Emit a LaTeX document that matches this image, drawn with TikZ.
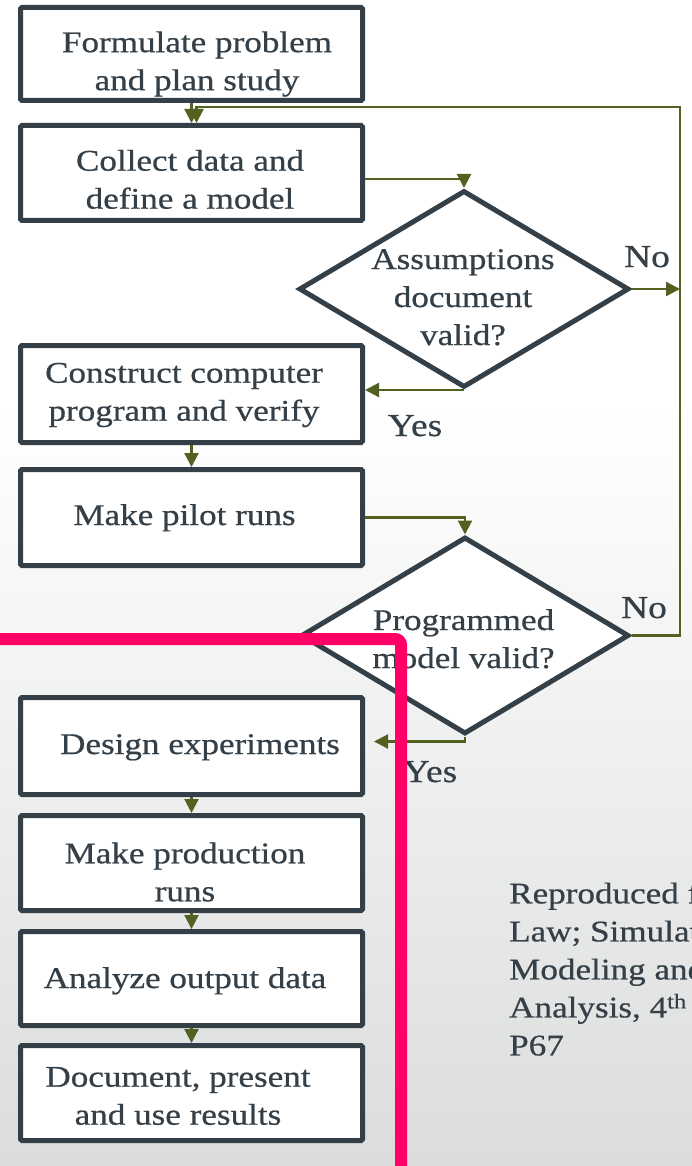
\documentclass[tikz,border=0pt]{standalone}
\usepackage{fontspec}
\setmainfont[FakeStretch=1.17,FakeBold=0.6]{Liberation Serif}
\usetikzlibrary{arrows.meta,shapes.geometric}
\definecolor{ink}{HTML}{343F47}
\definecolor{olive}{HTML}{526020}
\definecolor{hot}{HTML}{FF0066}
\definecolor{bgbot}{HTML}{DBDDDC}
\tikzset{
  stepbox/.style={draw=ink, line width=5pt, fill=white, rectangle, rounded corners=1.5pt,
    inner sep=0pt, minimum width=342pt},
  decision/.style={draw=ink, line width=5pt, fill=white, diamond, inner sep=0pt},
  txt/.style={font=\fontsize{30}{38}\selectfont, text=ink, align=center, inner sep=0pt},
  lbl/.style={font=\fontsize{32}{38}\selectfont, text=ink, inner sep=0pt, anchor=base},
  flow/.style={draw=olive, line width=2.2pt, -{Triangle[length=14pt,width=14pt]}},
}
\begin{document}
\begin{tikzpicture}[x=1pt, y=-1pt]
\useasboundingbox (0,0) rectangle (692,1166);
\begin{scope}
\clip (0,0) rectangle (692,1166);
% page background: white top fading to light grey
\fill[white] (0,0) rectangle (692,400);
\shade[top color=white, bottom color=bgbot] (0,400) rectangle (692,1166);

% process boxes
\node[stepbox, minimum height=93pt] (b1) at (191.5,54) {};
\node[stepbox, minimum height=95pt] (b2) at (191.5,173) {};
\node[stepbox, minimum height=97pt] (b3) at (191.5,394) {};
\node[stepbox, minimum height=96pt] (b4) at (191.5,517.5) {};
\node[stepbox, minimum height=97pt] (b5) at (191.5,746) {};
\node[stepbox, minimum height=95pt] (b6) at (191.5,863) {};
\node[stepbox, minimum height=94pt] (b7) at (191.5,978.5) {};
\node[stepbox, minimum height=95pt] (b8) at (191.5,1093) {};

% decisions
\node[decision, minimum width=330pt, minimum height=197pt] (d1) at (464,289) {};
\node[decision, minimum width=328pt, minimum height=197pt] (d2) at (465,635.5) {};

% box and decision texts
\node[txt] (t1) at (197,64) {Formulate problem\\and plan study};
\node[txt] (t2) at (190,179.4) {Collect data and\\define a model};
\node[txt] (t3) at (184,395) {Construct computer\\program and verify};
\node[txt, anchor=base] (t4) at (184.5,525) {Make pilot runs};
\node[txt, anchor=base] (t5) at (200,754) {Design experiments};
\node[txt] (t6) at (185,872) {Make production\\runs};
\node[txt, anchor=base] (t7) at (185,988) {Analyze output data};
\node[txt] (t8) at (178,1096) {Document, present\\and use results};
\node[txt] (t9) at (463,297.3) {Assumptions\\document\\valid?};
\node[txt] (t10) at (463.5,638.8) {Programmed\\model valid?};

% branch labels
\node[lbl] (no1) at (647,267) {No};
\node[lbl] (yes1) at (415,436) {Yes};
\node[lbl] (no2) at (644,618) {No};
\node[lbl] (yes2) at (430,782) {Yes};

% source note, running off the right edge
\node[txt, align=left, anchor=west] (src) at (509,969)
  {Reproduced from\\Law; Simulation\\Modeling and\\Analysis, 4\textsuperscript{th} Ed.\\P67};

% connectors
\coordinate (fb) at (680,107);
\draw[flow] (b1) -- (b2);
\draw[flow] ([yshift=-6pt]b2.east) -| (d1.north);
\draw[flow] (d1.east) -- (d1.east -| fb);
\draw[flow] (d1.south) -- (d1.south -| b3.east);
\draw[flow] (b3) -- (b4);
\draw[flow] (b4.east) -| (d2.north);
\draw[flow] (d2.east) -| (fb) -| ([xshift=5pt]b2.north);
\draw[flow] (d2.south) |- ([xshift=9pt,yshift=4.5pt]b5.east);
\draw[flow] (b5) -- (b6);
\draw[flow] (b6) -- (b7);
\draw[flow] (b7) -- (b8);

% highlight frame
\draw[hot, line width=12pt, rounded corners=6pt] (-10,639) -- (401,639) -- (401,1180);
\end{scope}
\end{tikzpicture}
\end{document}
